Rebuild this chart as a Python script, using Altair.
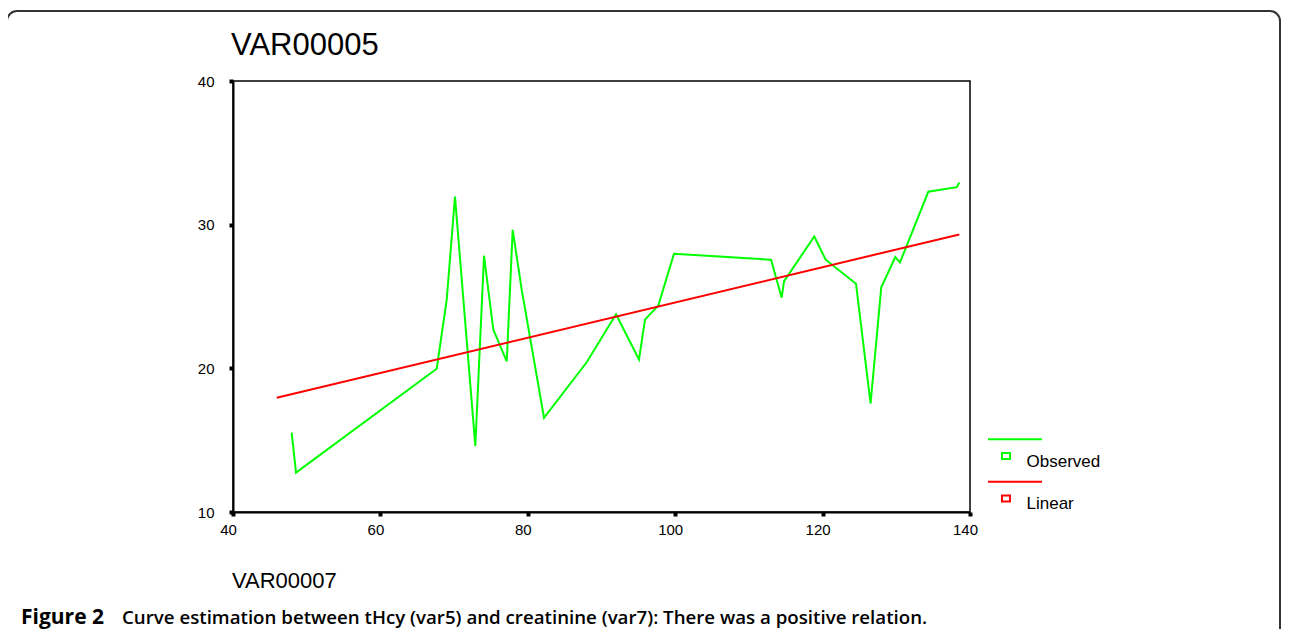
import altair as alt
import pandas as pd

# ---- data ----
obs_x = [47.96, 48.55, 67.64, 69.0, 70.12, 72.88, 74.06, 75.32, 77.14, 77.95,
         79.17, 82.2, 87.99, 91.97, 95.09, 95.9, 97.71, 99.84, 113.0, 114.45,
         114.76, 118.87, 120.42, 124.53, 126.51, 127.96, 129.86, 130.5, 134.34,
         138.2, 138.55]
obs_y = [15.52, 12.74, 19.97, 24.78, 31.96, 14.59, 27.84, 22.70, 20.49, 29.64,
         25.48, 16.56, 20.42, 23.76, 20.61, 23.39, 24.38, 27.98, 27.56, 24.92,
         26.05, 29.18, 27.56, 25.89, 17.55, 25.64, 27.75, 27.37, 32.29,
         32.61, 32.93]
lin_x = [45.93, 138.55]
lin_y = [17.95, 29.32]
x_ticks = [40, 60, 80, 100, 120, 140]
y_ticks = [10, 20, 30, 40]
legend_labels = ["Observed", "Linear"]
title_text = "VAR00005"
xtitle_text = "VAR00007"
caption_bold = "Figure 2"
caption_rest = "Curve estimation between tHcy (var5) and creatinine (var7): There was a positive relation."

GREEN = "#00ff00"
RED = "#ff0000"
W, H = 737, 431
FONT = "Liberation Sans"

obs = pd.DataFrame({"x": obs_x, "y": obs_y})
lin = pd.DataFrame({"x": lin_x, "y": lin_y})

xs = alt.Scale(domain=[40, 140], nice=False, zero=False)
ys = alt.Scale(domain=[10, 40], nice=False, zero=False)

xaxis = alt.Axis(values=x_ticks, title=None, grid=False, domain=True,
                 domainColor="black", domainWidth=2, ticks=True,
                 tickColor="black", tickSize=4, tickWidth=4,
                 labelFont=FONT, labelFontSize=15, labelColor="black",
                 labelPadding=6, labelOffset=-5, labelFlush=False,
                 labelOverlap=False, format="d")
yaxis = alt.Axis(values=y_ticks, title=None, grid=False, domain=True,
                 domainColor="black", domainWidth=2, ticks=True,
                 tickColor="black", tickSize=4, tickWidth=4,
                 labelFont=FONT, labelFontSize=15, labelColor="black",
                 labelPadding=15, labelFlush=False, labelOverlap=False,
                 format="d")

one = alt.Data(values=[{}])


def txt(s, x, y, size, font=FONT, weight="normal", color="black"):
    return alt.Chart(one).mark_text(
        text=s, align="left", baseline="alphabetic", font=font,
        fontSize=size, fontWeight=weight, color=color
    ).encode(x=alt.value(x), y=alt.value(y))


border = alt.Chart(one).mark_rect(
    fillOpacity=0, stroke="#333333", strokeWidth=2, cornerRadius=10
).encode(x=alt.value(-226), x2=alt.value(1047), y=alt.value(-70), y2=alt.value(660))

obs_line = alt.Chart(obs).mark_line(color=GREEN, strokeWidth=2).encode(
    x=alt.X("x:Q", scale=xs, axis=xaxis),
    y=alt.Y("y:Q", scale=ys, axis=yaxis),
)
lin_line = alt.Chart(lin).mark_line(color=RED, strokeWidth=2).encode(
    x=alt.X("x:Q", scale=xs, axis=xaxis),
    y=alt.Y("y:Q", scale=ys, axis=yaxis),
)

legend_layers = []
for i, (lab, col) in enumerate(zip(legend_labels, [GREEN, RED])):
    dy = i * 42.4
    legend_layers.append(
        alt.Chart(one).mark_rule(color=col, strokeWidth=2).encode(
            x=alt.value(755), x2=alt.value(809), y=alt.value(358.3 + dy)))
    legend_layers.append(
        alt.Chart(one).mark_rect(fillOpacity=0, stroke=col, strokeWidth=2).encode(
            x=alt.value(769), x2=alt.value(777), y=alt.value(372 + dy), y2=alt.value(378 + dy)))
    legend_layers.append(txt(lab, 793.5, 386 + dy, 17))

title = txt(title_text, -2, -26, 31)
xtitle = txt(xtitle_text, -1, 507, 22)
cap1 = txt(caption_bold, -212, 543, 21, font="Open Sans", weight="bold")
cap2 = txt(caption_rest, -111, 543, 18.7, font="Open Sans", weight=600)

chart = alt.layer(
    border, obs_line, lin_line, *legend_layers, title, xtitle, cap1, cap2
).resolve_axis(x="shared", y="shared").properties(
    width=W, height=H,
    padding={"left": 225, "top": 73, "right": 311, "bottom": 117},
    autosize=alt.AutoSizeParams(type="none"),
    background="white",
).configure_view(stroke="black", strokeWidth=1.5)

chart.save("out.html", embed_options={"renderer": "svg", "actions": False})
